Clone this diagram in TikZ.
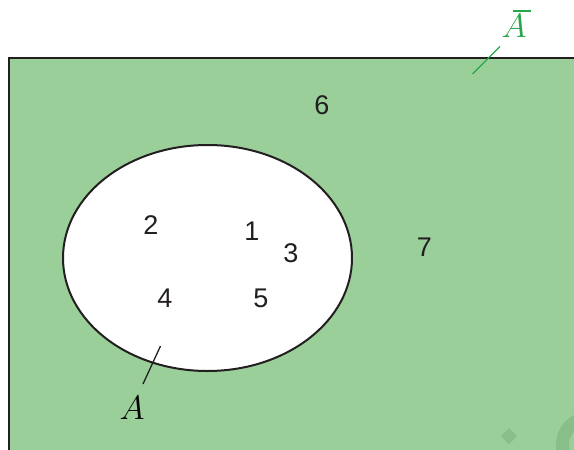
\RequirePackage{fix-cm}
\documentclass[tikz,border=0pt]{standalone}
\usepackage{fontspec}
\usetikzlibrary{shapes.geometric}
\newfontfamily\digitfont{Liberation Sans}
\definecolor{regiongreen}{RGB}{155,207,154}
\definecolor{decogreen}{RGB}{136,190,136}
\definecolor{labelgreen}{RGB}{38,168,74}
\definecolor{edgedark}{RGB}{35,31,32}
\tikzset{
  numlabel/.style={font=\digitfont\fontsize{27}{32}\selectfont, text=edgedark, inner sep=0pt},
  setlabel/.style={font=\fontsize{34}{40}\selectfont, inner sep=0pt},
}
\begin{document}
\begin{tikzpicture}[x=1pt,y=-1pt]
\useasboundingbox (0,0) rectangle (574,450);
% universal set
\fill[regiongreen] (9,58) rectangle (580,460);
\draw[edgedark, line width=2.5pt] (9,460) -- (9,58) -- (580,58);
% decorations
\fill[decogreen] (509,428) -- (517,436) -- (509,444) -- (501,436) -- cycle;
\fill[decogreen, even odd rule] (590,445) circle[radius=34] (590,445) circle[radius=21];
% set A
\node[draw=edgedark, fill=white, line width=2pt, ellipse, minimum width=289pt, minimum height=226pt, inner sep=0pt] (setA) at (207.5,258) {};
% numbers
\node[numlabel] (n6) at (322,105) {6};
\node[numlabel] (n7) at (424.5,247.5) {7};
\node[numlabel] (n2) at (151,225) {2};
\node[numlabel] (n1) at (252,231) {1};
\node[numlabel] (n3) at (291,253) {3};
\node[numlabel] (n4) at (165,298) {4};
\node[numlabel] (n5) at (261,298) {5};
% labels
\node[setlabel] (lA) at (132,408) {$A$};
\coordinate (lAa) at (143,384);
\coordinate (lAb) at (160.5,346);
\draw[edgedark, line width=1.3pt] (lAa) -- (lAb);
\node[setlabel, text=labelgreen] (lAc) at (514,26) {$A$};
\draw[labelgreen, line width=1.5pt] (513,11) -- (531,11);
\coordinate (lCa) at (472.5,74);
\coordinate (lCb) at (500,46.5);
\draw[labelgreen, line width=1.3pt] (lCa) -- (lCb);
\end{tikzpicture}
\end{document}
